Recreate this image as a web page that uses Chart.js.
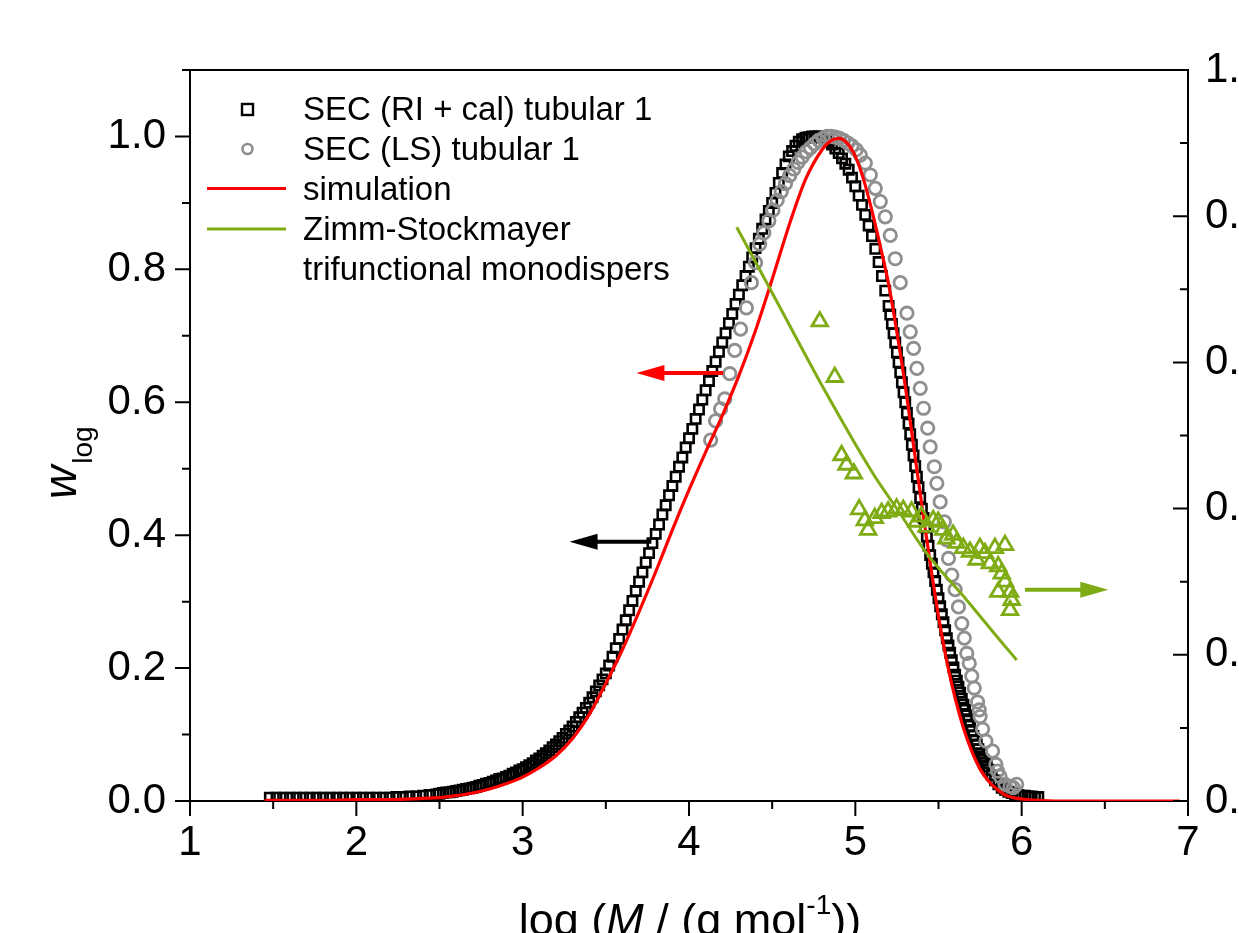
<!DOCTYPE html>
<html>
<head>
<meta charset="utf-8">
<script src="https://cdn.jsdelivr.net/npm/chart.js@4.4.1/dist/chart.umd.min.js"></script>
<style>
  html, body { margin: 0; padding: 0; background: #fff; overflow: hidden; }
  canvas { display: block; }
</style>
</head>
<body>
<canvas id="wlogChart" width="1239" height="933"></canvas>
<script>
// SEC (RI + cal) tubular 1 -- log M and w_log
const riLogM = [
  1.48, 1.52, 1.56, 1.60, 1.64, 1.68, 1.72, 1.76, 1.80, 1.84,
  1.88, 1.92, 1.96, 2.00, 2.04, 2.08, 2.12, 2.16, 2.20, 2.24,
  2.28, 2.32, 2.36, 2.40, 2.44, 2.48,
  2.50, 2.52, 2.54, 2.56, 2.58, 2.60, 2.62, 2.64, 2.66, 2.68,
  2.70, 2.72, 2.74, 2.76, 2.78, 2.80, 2.82, 2.84, 2.86, 2.88,
  2.90, 2.92, 2.94, 2.96, 2.98, 3.00, 3.02, 3.04, 3.06, 3.08,
  3.10, 3.12, 3.14, 3.16, 3.18, 3.20, 3.22, 3.24, 3.26, 3.28,
  3.30, 3.32, 3.34, 3.36, 3.38, 3.40, 3.42, 3.44, 3.46, 3.48,
  3.50, 3.52, 3.54, 3.56, 3.58, 3.60, 3.62, 3.64, 3.66, 3.68,
  3.70, 3.72, 3.74, 3.76, 3.78, 3.80, 3.82, 3.84, 3.86, 3.88,
  3.90, 3.92, 3.94, 3.96, 3.98, 4.00, 4.02, 4.04, 4.06, 4.08,
  4.10, 4.12, 4.14, 4.16, 4.18, 4.20, 4.22, 4.24, 4.26, 4.28,
  4.30, 4.32, 4.34, 4.36, 4.38, 4.40, 4.42, 4.44, 4.46, 4.48,
  4.50, 4.52, 4.54, 4.56, 4.58, 4.60, 4.62, 4.64, 4.66, 4.68,
  4.70, 4.72, 4.74, 4.76, 4.78, 4.80, 4.82, 4.84, 4.86, 4.88,
  4.90, 4.92, 4.94, 4.96, 4.98, 5.00, 5.02, 5.04, 5.06, 5.08,
  5.10, 5.12, 5.14, 5.16, 5.18, 5.20,
  5.21, 5.22, 5.23, 5.24, 5.25, 5.26, 5.27, 5.28, 5.29, 5.30,
  5.31, 5.32, 5.33, 5.34, 5.35, 5.36, 5.37, 5.38, 5.39, 5.40,
  5.41, 5.42, 5.43, 5.44, 5.45, 5.46, 5.47, 5.48, 5.49, 5.50,
  5.51, 5.52, 5.53, 5.54, 5.55, 5.56, 5.57, 5.58, 5.59, 5.60,
  5.61, 5.62, 5.63, 5.64, 5.65, 5.66, 5.67, 5.68, 5.69, 5.70,
  5.71, 5.72, 5.73, 5.74, 5.75, 5.76, 5.77, 5.78, 5.79, 5.80,
  5.82, 5.84, 5.86, 5.88, 5.90, 5.92, 5.94, 5.96, 5.98, 6.00,
  6.02, 6.04, 6.06, 6.08, 6.10
];
const riW = [
  0.005, 0.005, 0.005, 0.005, 0.005, 0.005, 0.005, 0.005, 0.005, 0.005,
  0.005, 0.005, 0.005, 0.005, 0.005, 0.005, 0.005, 0.005, 0.005, 0.006,
  0.006, 0.007, 0.007, 0.008, 0.009, 0.010,
  0.011, 0.012, 0.013, 0.013, 0.014, 0.015, 0.016, 0.017, 0.018, 0.019,
  0.020, 0.021, 0.023, 0.024, 0.026, 0.027, 0.029, 0.031, 0.033, 0.034,
  0.036, 0.038, 0.041, 0.043, 0.046, 0.048, 0.051, 0.054, 0.057, 0.061,
  0.064, 0.068, 0.072, 0.076, 0.081, 0.085, 0.090, 0.095, 0.101, 0.106,
  0.112, 0.119, 0.126, 0.133, 0.140, 0.148, 0.156, 0.165, 0.174, 0.183,
  0.192, 0.204, 0.217, 0.230, 0.244, 0.258, 0.272, 0.287, 0.301, 0.316,
  0.330, 0.344, 0.359, 0.373, 0.388, 0.402, 0.416, 0.431, 0.445, 0.460,
  0.474, 0.488, 0.503, 0.517, 0.532, 0.546, 0.560, 0.575, 0.589, 0.604,
  0.618, 0.632, 0.647, 0.661, 0.676, 0.690, 0.704, 0.719, 0.733, 0.748,
  0.762, 0.776, 0.790, 0.804, 0.818, 0.832, 0.846, 0.861, 0.875, 0.888,
  0.900, 0.915, 0.930, 0.945, 0.958, 0.970, 0.978, 0.986, 0.992, 0.996,
  0.998, 0.999, 1.000, 1.000, 1.000, 0.998, 0.995, 0.992, 0.988, 0.982,
  0.975, 0.967, 0.959, 0.950, 0.938, 0.925, 0.911, 0.897, 0.882, 0.866,
  0.850, 0.831, 0.811, 0.790, 0.768, 0.745,
  0.732, 0.718, 0.704, 0.690, 0.675, 0.660, 0.645, 0.630, 0.615, 0.600,
  0.584, 0.568, 0.552, 0.536, 0.520, 0.504, 0.488, 0.472, 0.456, 0.440,
  0.426, 0.412, 0.398, 0.384, 0.370, 0.357, 0.344, 0.331, 0.318, 0.305,
  0.293, 0.281, 0.269, 0.257, 0.245, 0.234, 0.223, 0.212, 0.201, 0.190,
  0.181, 0.172, 0.163, 0.154, 0.145, 0.137, 0.129, 0.121, 0.113, 0.105,
  0.098, 0.092, 0.085, 0.078, 0.072, 0.067, 0.062, 0.057, 0.052, 0.047,
  0.039, 0.031, 0.025, 0.020, 0.017, 0.014, 0.012, 0.010, 0.009, 0.008,
  0.008, 0.007, 0.007, 0.006, 0.006
];

// SEC (LS) tubular 1
const lsLogM = [
  4.130, 4.160, 4.190, 4.215, 4.245, 4.275, 4.310, 4.345, 4.375, 4.400,
  4.425, 4.450, 4.480, 4.505, 4.530, 4.555, 4.580, 4.605, 4.630, 4.655,
  4.680, 4.705, 4.730, 4.755, 4.780, 4.805, 4.830, 4.855, 4.880, 4.905,
  4.930, 4.955, 4.980, 5.005, 5.030, 5.060, 5.090, 5.120, 5.150, 5.180,
  5.210, 5.240, 5.270, 5.310, 5.330, 5.350, 5.370, 5.390, 5.410, 5.435,
  5.450, 5.475, 5.490, 5.510, 5.535, 5.550, 5.560, 5.580, 5.600, 5.620,
  5.640, 5.655, 5.670, 5.685, 5.700, 5.715, 5.735, 5.745, 5.750, 5.765,
  5.785, 5.825, 5.845, 5.855, 5.870, 5.900, 5.930, 5.950, 5.970
];
const lsW = [
  0.543, 0.572, 0.590, 0.605, 0.643, 0.678, 0.710, 0.742, 0.780, 0.810,
  0.838, 0.855, 0.873, 0.889, 0.904, 0.917, 0.929, 0.941, 0.951, 0.961,
  0.969, 0.977, 0.983, 0.989, 0.994, 0.997, 1.000, 1.000, 0.999, 0.997,
  0.994, 0.990, 0.986, 0.980, 0.972, 0.960, 0.942, 0.922, 0.902, 0.879,
  0.851, 0.816, 0.780, 0.734, 0.706, 0.681, 0.651, 0.621, 0.591, 0.561,
  0.533, 0.503, 0.478, 0.450, 0.420, 0.393, 0.365, 0.340, 0.318, 0.292,
  0.267, 0.245, 0.222, 0.207, 0.188, 0.170, 0.149, 0.137, 0.127, 0.108,
  0.090, 0.075, 0.055, 0.045, 0.037, 0.025, 0.022, 0.020, 0.025
];

// simulation
const simLogM = [
  1.45, 1.60, 1.80, 2.00, 2.20, 2.40, 2.50, 2.60, 2.70, 2.80,
  2.90, 3.00, 3.10, 3.20, 3.30, 3.40, 3.50, 3.60, 3.70, 3.80,
  3.90, 4.00, 4.10, 4.20, 4.30, 4.40, 4.50, 4.60, 4.70, 4.80,
  4.85, 4.90, 4.95, 5.00, 5.05, 5.10, 5.15, 5.20, 5.25, 5.30,
  5.35, 5.40, 5.45, 5.50, 5.55, 5.60, 5.65, 5.70, 5.75, 5.80,
  5.85, 5.90, 5.95, 6.00, 6.10, 6.20, 6.50, 6.95
];
const simW = [
  0.001, 0.001, 0.001, 0.002, 0.002, 0.004, 0.005, 0.008, 0.012, 0.018,
  0.026, 0.036, 0.050, 0.068, 0.094, 0.130, 0.177, 0.228, 0.285, 0.345,
  0.408, 0.468, 0.525, 0.580, 0.640, 0.708, 0.785, 0.865, 0.935, 0.980,
  0.993, 0.997, 0.990, 0.970, 0.935, 0.888, 0.835, 0.778, 0.705, 0.625,
  0.535, 0.445, 0.358, 0.278, 0.210, 0.155, 0.110, 0.075, 0.048, 0.030,
  0.018, 0.009, 0.005, 0.003, 0.001, 0.000, 0.000, 0.000
];

// Zimm-Stockmayer, trifunctional monodisperse (right axis)
const zsLogM = [4.287, 4.524, 4.825, 5.106, 5.267, 5.428, 5.669, 5.869, 5.970];
const zsG = [0.785, 0.685, 0.558, 0.448, 0.394, 0.339, 0.275, 0.220, 0.193];

// measured contraction factor from SEC (right axis, triangles)
const gLogM = [
  4.786, 4.876, 4.917, 4.947, 4.991, 5.023, 5.057, 5.077, 5.117, 5.158,
  5.197, 5.248, 5.288, 5.338, 5.368, 5.398, 5.428, 5.468, 5.498, 5.528,
  5.548, 5.588, 5.608, 5.649, 5.689, 5.729, 5.749, 5.779, 5.809, 5.839,
  5.859, 5.900, 5.880, 5.900, 5.859, 5.930, 5.940, 5.930
];
const gMeas = [
  0.656, 0.580, 0.473, 0.460, 0.448, 0.399, 0.384, 0.371, 0.387, 0.394,
  0.396, 0.400, 0.398, 0.396, 0.382, 0.389, 0.375, 0.384, 0.382, 0.371,
  0.359, 0.364, 0.353, 0.346, 0.341, 0.330, 0.346, 0.339, 0.325, 0.346,
  0.321, 0.350, 0.311, 0.300, 0.286, 0.286, 0.275, 0.261
];

// arrows telling which axis a curve belongs to
const axisArrows = [
  { from: 3.774, to: 3.282, at: 0.390, axis: 'y',  color: '#000000' },
  { from: 4.205, to: 3.684, at: 0.644, axis: 'y',  color: '#ff0000' },
  { from: 6.020, to: 6.521, at: 0.289, axis: 'y2', color: '#7fac14' }
];

const FONT = '"Liberation Sans", Arial, Helvetica, sans-serif';
const GREEN = '#7fac14';
const GREY = '#8f8f8f';

const pts = (xs, ys) => xs.map((x, i) => ({ x: x, y: ys[i] }));
const evenTenth = v => {
  const k = Math.round(v * 10);
  return k % 2 === 0 ? (k / 10).toFixed(1) : '';
};

const decor = {
  id: 'decor',
  afterDatasetsDraw(chart) {
    const ctx = chart.ctx;
    const xs = chart.scales.x;
    ctx.save();
    axisArrows.forEach(a => {
      const ys = chart.scales[a.axis];
      const x0 = xs.getPixelForValue(a.from);
      const x1 = xs.getPixelForValue(a.to);
      const y = ys.getPixelForValue(a.at);
      const dir = Math.sign(x1 - x0);
      const head = 28;
      ctx.strokeStyle = a.color;
      ctx.fillStyle = a.color;
      ctx.lineWidth = 4;
      ctx.beginPath();
      ctx.moveTo(x0, y);
      ctx.lineTo(x1 - dir * (head - 2), y);
      ctx.stroke();
      ctx.beginPath();
      ctx.moveTo(x1, y);
      ctx.lineTo(x1 - dir * head, y - 8);
      ctx.lineTo(x1 - dir * head, y + 8);
      ctx.closePath();
      ctx.fill();
    });
    ctx.restore();
  },
  afterDraw(chart) {
    const { ctx, chartArea: ca, scales } = chart;
    ctx.save();

    // frame top and tick marks (major 15 px, minor 8 px)
    ctx.strokeStyle = '#000';
    ctx.lineWidth = 2;
    ctx.beginPath();
    ctx.moveTo(ca.left - 1, ca.top);
    ctx.lineTo(ca.right + 1, ca.top);
    scales.x.ticks.forEach(t => {
      const p = scales.x.getPixelForValue(t.value);
      const len = Math.abs(t.value - Math.round(t.value)) < 1e-6 ? 15 : 8;
      ctx.moveTo(p, ca.bottom);
      ctx.lineTo(p, ca.bottom + len);
    });
    scales.y.ticks.forEach(t => {
      const p = scales.y.getPixelForValue(t.value);
      const len = Math.round(t.value * 10) % 2 === 0 ? 15 : 8;
      ctx.moveTo(ca.left, p);
      ctx.lineTo(ca.left - len, p);
    });
    scales.y2.ticks.forEach(t => {
      const p = scales.y2.getPixelForValue(t.value);
      const len = Math.round(t.value * 10) % 2 === 0 ? 15 : 8;
      ctx.moveTo(ca.right, p);
      ctx.lineTo(ca.right - len, p);
    });
    ctx.stroke();

    // y title: w_log
    ctx.fillStyle = '#000';
    ctx.textBaseline = 'alphabetic';
    ctx.textAlign = 'left';
    ctx.save();
    ctx.translate(76, 499);
    ctx.rotate(-Math.PI / 2);
    ctx.font = 'italic 46px ' + FONT;
    ctx.fillText('w', 0, 0);
    const ww = ctx.measureText('w').width;
    ctx.font = '28px ' + FONT;
    ctx.fillText('log', ww + 2, 16);
    ctx.restore();

    // x title: log (M / (g mol^-1))
    const parts = [
      { t: 'log (', f: '45px ' + FONT, dy: 0 },
      { t: 'M', f: 'italic 45px ' + FONT, dy: 0 },
      { t: ' / (g mol', f: '45px ' + FONT, dy: 0 },
      { t: '-1', f: '28px ' + FONT, dy: -21 },
      { t: '))', f: '45px ' + FONT, dy: 0 }
    ];
    let total = 0;
    parts.forEach(p => { ctx.font = p.f; p.w = ctx.measureText(p.t).width; total += p.w; });
    let tx = 690 - total / 2;
    parts.forEach(p => { ctx.font = p.f; ctx.fillText(p.t, tx, 935 + p.dy); tx += p.w; });

    // legend
    const ds = chart.data.datasets;
    ctx.font = '33px ' + FONT;
    const textX = 303;
    ctx.lineWidth = 2.4;
    ctx.strokeStyle = '#000';
    ctx.strokeRect(242, 104, 11, 11);
    ctx.fillText(ds[0].label, textX, 120);
    ctx.strokeStyle = GREY;
    ctx.lineWidth = 2.6;
    ctx.beginPath();
    ctx.arc(247.5, 149, 5, 0, Math.PI * 2);
    ctx.stroke();
    ctx.fillText(ds[1].label, textX, 160);
    ctx.lineWidth = 3;
    ctx.strokeStyle = '#ff0000';
    ctx.beginPath();
    ctx.moveTo(207, 188.5);
    ctx.lineTo(286, 188.5);
    ctx.stroke();
    ctx.fillText(ds[2].label, textX, 200);
    ctx.strokeStyle = GREEN;
    ctx.beginPath();
    ctx.moveTo(207, 229);
    ctx.lineTo(286, 229);
    ctx.stroke();
    ctx.fillText('Zimm-Stockmayer', textX, 240);
    ctx.fillText('trifunctional monodispers', textX, 280);

    ctx.restore();
  }
};

const tickFont = { family: FONT, size: 42 };

new Chart(document.getElementById('wlogChart'), {
  type: 'scatter',
  data: {
    datasets: [
      {
        label: 'SEC (RI + cal) tubular 1',
        data: pts(riLogM, riW),
        yAxisID: 'y',
        pointStyle: 'rect',
        pointRadius: 6.6,
        borderColor: '#000',
        backgroundColor: 'rgba(0,0,0,0)',
        borderWidth: 2.6,
        order: 5
      },
      {
        label: 'SEC (LS) tubular 1',
        data: pts(lsLogM, lsW),
        yAxisID: 'y',
        pointStyle: 'circle',
        pointRadius: 6.2,
        borderColor: GREY,
        backgroundColor: 'rgba(0,0,0,0)',
        borderWidth: 2.8,
        order: 4
      },
      {
        label: 'simulation',
        data: pts(simLogM, simW),
        yAxisID: 'y',
        showLine: true,
        pointRadius: 0,
        borderColor: '#ff0000',
        borderWidth: 3.2,
        cubicInterpolationMode: 'monotone',
        order: 3
      },
      {
        label: 'Zimm-Stockmayer trifunctional monodispers',
        data: pts(zsLogM, zsG),
        yAxisID: 'y2',
        showLine: true,
        pointRadius: 0,
        borderColor: GREEN,
        borderWidth: 3,
        cubicInterpolationMode: 'monotone',
        order: 1
      },
      {
        label: 'g SEC tubular 1',
        data: pts(gLogM, gMeas),
        yAxisID: 'y2',
        pointStyle: 'triangle',
        pointRadius: 9,
        borderColor: GREEN,
        backgroundColor: 'rgba(0,0,0,0)',
        borderWidth: 2.8,
        order: 2
      }
    ]
  },
  options: {
    responsive: false,
    animation: false,
    events: [],
    layout: { padding: { top: 70, left: 0, right: 0, bottom: 0 } },
    plugins: { legend: { display: false }, tooltip: { enabled: false } },
    scales: {
      x: {
        type: 'linear',
        position: 'bottom',
        min: 1,
        max: 7,
        grid: { display: false, drawTicks: false },
        border: { display: true, color: '#000', width: 2 },
        ticks: {
          stepSize: 0.5,
          autoSkip: false,
          maxRotation: 0,
          padding: 17,
          color: '#000',
          font: tickFont,
          callback: v => (Math.abs(v - Math.round(v)) < 1e-6 ? String(Math.round(v)) : '')
        },
        afterFit: s => { s.height = 132; }
      },
      y: {
        position: 'left',
        min: 0,
        max: 1.1,
        grid: { display: false, drawTicks: false },
        border: { display: true, color: '#000', width: 2 },
        ticks: {
          stepSize: 0.1,
          autoSkip: false,
          padding: 24,
          color: '#000',
          font: tickFont,
          callback: v => (v > 1.05 ? '' : evenTenth(v))
        },
        afterFit: s => { s.width = 190; }
      },
      y2: {
        position: 'right',
        min: 0,
        max: 1.0,
        grid: { display: false, drawTicks: false },
        border: { display: true, color: '#000', width: 2 },
        ticks: {
          stepSize: 0.1,
          autoSkip: false,
          padding: 17,
          color: '#000',
          font: tickFont,
          callback: evenTenth
        },
        afterFit: s => { s.width = 51; }
      }
    }
  },
  plugins: [decor]
});
</script>
</body>
</html>
